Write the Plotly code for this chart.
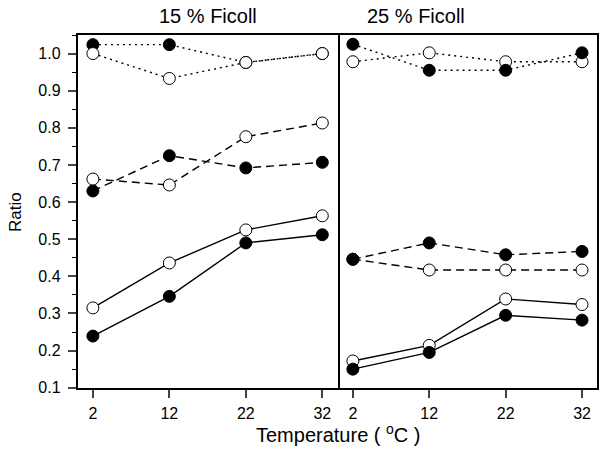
import plotly.graph_objects as go

temps = [2, 12, 22, 32]
panel_titles = ["15 % Ficoll", "25 % Ficoll"]

# 15 % Ficoll
f15_dot_filled = [1.024, 1.024, 0.976, 1.000]
f15_dot_open = [1.000, 0.933, 0.976, 1.000]
f15_dash_filled = [0.630, 0.725, 0.692, 0.707]
f15_dash_open = [0.662, 0.646, 0.776, 0.813]
f15_solid_filled = [0.239, 0.346, 0.490, 0.512]
f15_solid_open = [0.315, 0.436, 0.525, 0.563]

# 25 % Ficoll
f25_dot_filled = [1.025, 0.955, 0.955, 1.002]
f25_dot_open = [0.978, 1.002, 0.978, 0.978]
f25_dash_filled = [0.446, 0.490, 0.458, 0.467]
f25_dash_open = [0.446, 0.417, 0.417, 0.417]
f25_solid_filled = [0.150, 0.195, 0.295, 0.282]
f25_solid_open = [0.172, 0.214, 0.339, 0.324]

W, H = 603, 452
xl0, xmid, xr1 = 77.6, 337.6, 597.3
ytop, ybot = 35, 387.7

DOT = "2px,4px"
DASH = "8px,5px"

fig = go.Figure()


def add(y, dash, filled, xa, ya):
    fig.add_trace(go.Scatter(
        x=temps, y=y, xaxis=xa, yaxis=ya, mode="lines+markers",
        line=dict(color="black", width=1.4, dash=dash),
        marker=dict(size=12, symbol="circle",
                    color="black" if filled else "white",
                    line=dict(color="black", width=1)),
        showlegend=False, cliponaxis=False, hoverinfo="skip"))


# left panel
add(f15_dot_filled, DOT, True, "x", "y")
add(f15_dot_open, DOT, False, "x", "y")
add(f15_dash_filled, DASH, True, "x", "y")
add(f15_dash_open, DASH, False, "x", "y")
add(f15_solid_filled, "solid", True, "x", "y")
add(f15_solid_open, "solid", False, "x", "y")
# right panel
add(f25_dot_open, DOT, False, "x2", "y2")
add(f25_dot_filled, DOT, True, "x2", "y2")
add(f25_dash_open, DASH, False, "x2", "y2")
add(f25_dash_filled, DASH, True, "x2", "y2")
add(f25_solid_open, "solid", False, "x2", "y2")
add(f25_solid_filled, "solid", True, "x2", "y2")

font = "Liberation Sans, Arial, sans-serif"
ydom = [1 - ybot / H, 1 - ytop / H]

xcommon = dict(range=[0, 34], tickvals=temps, ticks="outside", ticklen=8,
               tickwidth=1.5, showline=True, linewidth=1.6, linecolor="black",
               mirror=True, showgrid=False, zeroline=False,
               ticklabelstandoff=2,
               tickfont=dict(family=font, size=16, color="black"))

fig.update_layout(
    width=W, height=H, margin=dict(l=0, r=0, t=0, b=0, autoexpand=False),
    plot_bgcolor="white", paper_bgcolor="white",
    xaxis=dict(domain=[xl0 / W, xmid / W], anchor="y", **xcommon),
    xaxis2=dict(domain=[xmid / W, xr1 / W], anchor="y2", **xcommon),
    yaxis=dict(domain=ydom, anchor="x", range=[0.1, 1.05],
               tickvals=[0.1, 0.2, 0.3, 0.4, 0.5, 0.6, 0.7, 0.8, 0.9, 1.0],
               tickformat=".1f", ticks="outside", ticklen=8, tickwidth=1.5,
               ticklabelstandoff=4,
               minor=dict(dtick=0.05, tick0=0.05, ticks="outside", ticklen=4,
                          tickwidth=1.3, tickcolor="black"),
               showline=True, linewidth=1.6, linecolor="black", mirror=True,
               showgrid=False, zeroline=False,
               tickfont=dict(family=font, size=16, color="black")),
    yaxis2=dict(domain=ydom, anchor="x2", range=[0.1, 1.05], side="right",
                showticklabels=False, ticks="", showline=True, linewidth=1.6,
                linecolor="black", mirror=False, showgrid=False,
                zeroline=False),
    annotations=[
        dict(text=panel_titles[0], x=(xl0 + xmid) / 2 / W,
             y=1 - 16 / H, yanchor="middle",
             xref="paper", yref="paper", showarrow=False,
             font=dict(family=font, size=20, color="black")),
        dict(text=panel_titles[1], x=(xmid + xr1) / 2 / W,
             y=1 - 16 / H, yanchor="middle",
             xref="paper", yref="paper", showarrow=False,
             font=dict(family=font, size=20, color="black")),
        dict(text="Temperature ( <sup>o</sup>C )", x=338 / W,
             y=1 - 433 / H, yanchor="middle",
             xref="paper", yref="paper", showarrow=False,
             font=dict(family=font, size=20, color="black")),
        dict(text="Ratio", x=15 / W, y=1 - 212 / H,
             textangle=-90, xanchor="center", yanchor="middle",
             xref="paper", yref="paper", showarrow=False,
             font=dict(family=font, size=17, color="black")),
    ],
)

fig.write_html("out.html", config={"displayModeBar": False},
               post_script="document.body.style.margin='0';")
